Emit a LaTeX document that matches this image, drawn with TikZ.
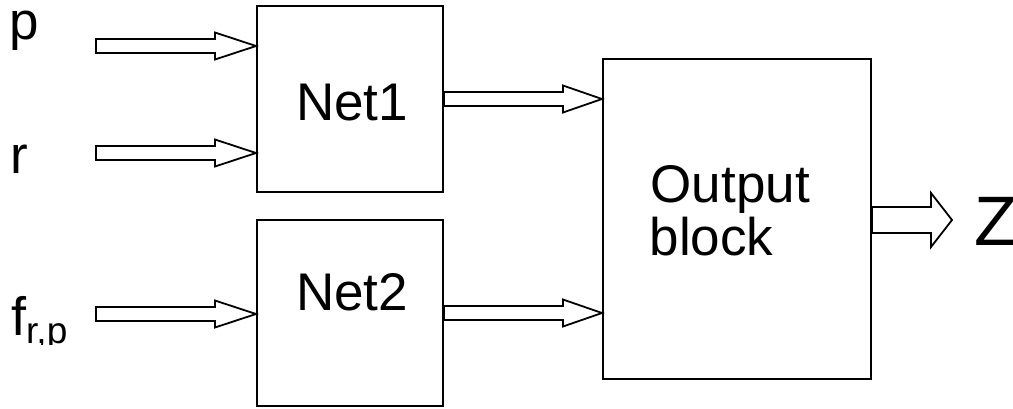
\documentclass[tikz,border=0pt]{standalone}
\usepackage{fontspec}
\setmainfont{Liberation Sans}
\usetikzlibrary{calc}
\tikzset{
  box/.style={draw, line width=2pt, inner sep=0pt, rectangle},
  lbl/.style={inner sep=0pt, anchor=base west, font=\fontsize{53}{60}\selectfont},
  conn/.style={draw, line width=1.8pt, fill=white, line join=miter},
}
\newcommand{\blockarrow}[5]{%
  \path[conn] let \p1=(#1), \p2=(#2) in
  (\x1,\y1+#3) -- (\x2-#5,\y1+#3) -- (\x2-#5,\y1+#4) -- (\x2,\y1) --
  (\x2-#5,\y1-#4) -- (\x2-#5,\y1-#3) -- (\x1,\y1-#3) -- cycle;}
\begin{document}
\begin{tikzpicture}[x=1pt, y=-1pt]
\useasboundingbox (0,0) rectangle (1013,408);
% boxes
\node[box, minimum width=186pt, minimum height=186pt] (net1) at (350,99) {};
\node[box, minimum width=186pt, minimum height=186pt] (net2) at (350,313) {};
\node[box, minimum width=268pt, minimum height=320pt] (out) at (737,219) {};
% free ends
\coordinate (pin) at (96,46);
\coordinate (rin) at (96,153);
\coordinate (fin) at (96,314);
\coordinate (zend) at (952,220);
% connectors
\blockarrow{pin}{net1.west |- pin}{7}{13.5}{41}
\blockarrow{rin}{net1.west |- rin}{7}{13.5}{41}
\blockarrow{fin}{net2.west |- fin}{7}{13.5}{41}
\blockarrow{net1.east}{out.west |- net1.east}{7}{13.5}{39}
\blockarrow{net2.east}{out.west |- net2.east}{7}{13.5}{39}
\blockarrow{out.east |- zend}{zend}{13}{27}{21}
% labels
\node[lbl] (pl) at (9,39) {p};
\node[lbl] (rl) at (10,173) {r};
\begin{scope}
\clip (0,0) rectangle (200,344);
\node[lbl, font=\fontsize{54}{60}\selectfont] (fl) at (11,335) {f\raisebox{-8pt}{\fontsize{37}{40}\selectfont r,p}};
\end{scope}
\node[lbl] (n1l) at (296,120) {Net1};
\node[lbl] (n2l) at (296,310) {Net2};
\node[lbl] (o1) at (650.5,202) {Output};
\node[lbl] (o2) at (649.5,255) {block};
\node[lbl, font=\fontsize{70}{80}\selectfont] (zl) at (974,245) {Z};
\end{tikzpicture}
\end{document}
